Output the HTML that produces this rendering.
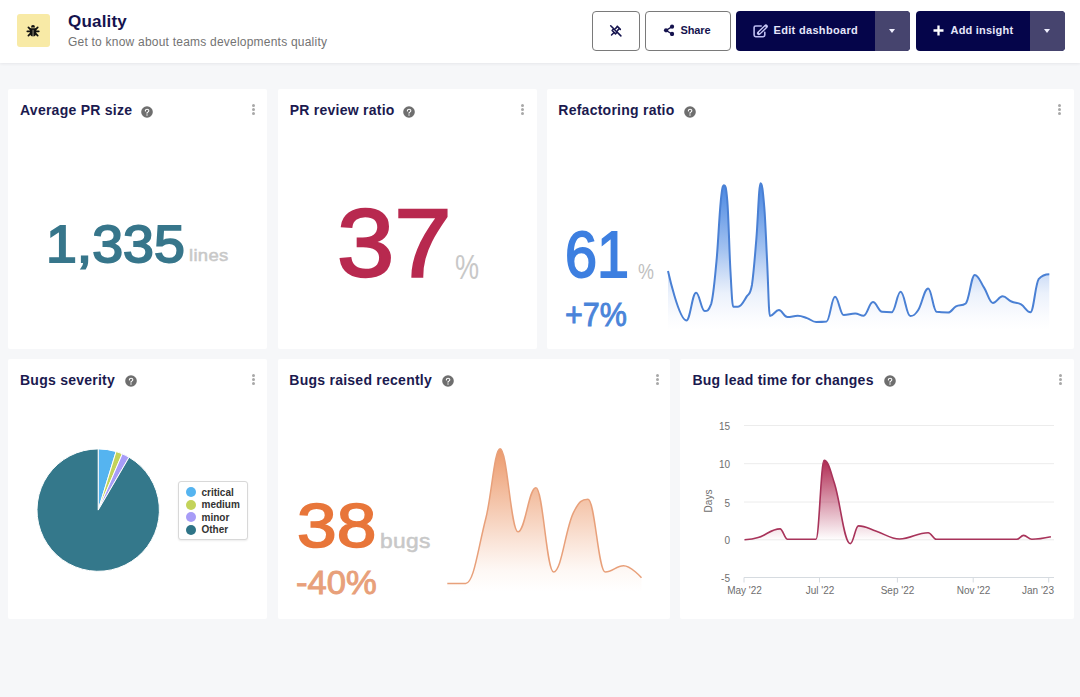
<!DOCTYPE html>
<html>
<head>
<meta charset="utf-8">
<style>
*{box-sizing:border-box;margin:0;padding:0}
html,body{width:1080px;height:697px;overflow:hidden;background:#f6f7f9;font-family:"Liberation Sans",sans-serif}
.abs{position:absolute}
.t{position:absolute;white-space:nowrap;line-height:1}
#hdr{position:absolute;left:0;top:0;width:1080px;height:63px;background:#fff;box-shadow:0 1px 3px rgba(20,20,40,0.07)}
.card{position:absolute;background:#fff;border-radius:2px}
.ttl{position:absolute;white-space:nowrap;line-height:1;font-weight:bold;font-size:14px;letter-spacing:0.25px;color:#1b1a4f}
.help{position:absolute;width:12px;height:12px;border-radius:50%;background:#6e6e6e;color:#fff;font-weight:bold;font-size:9px;line-height:12px;text-align:center}
.dots{position:absolute;width:3px;height:12px}
.dots i{position:absolute;left:0;width:3px;height:3px;border-radius:50%;background:#a8a8a8}
.btn{position:absolute;top:11px;height:40px;border-radius:4px}
.ob{border:1px solid #7a7a7a;background:#fff}
.db{background:#05054a}
.dd{position:absolute;top:0;height:40px;background:#46446e;border-radius:0 4px 4px 0}
.caret{position:absolute;width:0;height:0;border-left:3.5px solid transparent;border-right:3.5px solid transparent;border-top:4px solid #f0f0ff}
</style>
</head>
<body>
<div id="hdr">
  <div class="abs" style="left:17px;top:14px;width:33px;height:33px;background:#f8eaa6;border-radius:3px"></div>
  <svg class="abs" style="left:23px;top:21px" width="20" height="20" viewBox="0 0 20 20">
    <path d="M8,6.4 Q8,4 10,4 Q12,4 12,6.4 Z" fill="#111"/>
    <path d="M6.9,7.3 H13.2 V12.2 Q13.2,15.3 10.05,15.3 Q6.9,15.3 6.9,12.2 Z" fill="#111"/>
    <path d="M10.05,8.8 V15.2" stroke="#a8a288" stroke-width="0.9"/>
    <path d="M5.4,6.4 L7.4,8.4 M14.7,6.4 L12.7,8.4 M4.3,10.3 H7.2 M15.8,10.3 H12.9 M5.4,14.7 L7.4,12.7 M14.7,14.7 L12.7,12.7" stroke="#111" stroke-width="1.7" stroke-linecap="round"/>
  </svg>
  <div id="nqual" class="t" style="left:68px;top:12.5px;font-size:17px;font-weight:bold;color:#15134e;letter-spacing:0.2px">Quality</div>
  <div id="nsub" class="t" style="left:68px;top:36.2px;font-size:12px;color:#737373;letter-spacing:0.22px">Get to know about teams developments quality</div>

  <div class="btn ob" style="left:592px;width:48px">
    <svg class="abs" style="left:9px;top:6px" width="28" height="28" viewBox="0 0 24 24"></svg>
  </div>
  <svg class="abs" style="left:609.1px;top:23.5px" width="13.6" height="13.6" viewBox="0 0 24 24" fill="none" stroke="#15134e" stroke-width="2.7" stroke-linecap="round" stroke-linejoin="round">
    <path d="M3 3l18 18"/><path d="M15 4.5l-3.249 3.249m-2.57 1.433l-2.181 .818l-1.5 1.5l6 6l1.5 -1.5l.82 -2.186m1.43 -2.563l3.25 -3.251"/><path d="M9 15l-4.5 4.5"/><path d="M14.5 4l5.5 5.5"/>
  </svg>

  <div class="btn ob" style="left:645px;width:86px"></div>
  <svg class="abs" style="left:663px;top:24.1px" width="12" height="12" viewBox="0 0 12 12">
    <path d="M9.05,2.64 L3.03,6.37 L9.05,9.96" stroke="#15134e" stroke-width="1.3" fill="none"/>
    <circle cx="9.05" cy="2.64" r="2.1" fill="#15134e"/><circle cx="3.03" cy="6.37" r="2.1" fill="#15134e"/><circle cx="9.05" cy="9.96" r="2.1" fill="#15134e"/>
  </svg>
  <div class="t" style="left:680.5px;top:24.5px;font-size:11px;font-weight:bold;color:#15134e;letter-spacing:-0.1px">Share</div>

  <div class="btn db" style="left:736px;width:174px">
    <div class="dd" style="left:139px;width:35px"><div class="caret" style="left:14px;top:18px"></div></div>
  </div>
  <svg class="abs" style="left:750px;top:20px" width="22" height="22" viewBox="0 0 22 22" fill="none" stroke-linecap="round" stroke-linejoin="round">
    <path d="M11.2,6 H5.7 Q4.1,6 4.1,7.6 V15.1 Q4.1,16.7 5.7,16.7 H13.2 Q14.8,16.7 14.8,15.1 V12.2" stroke="#bdbdf0" stroke-width="1.6"/>
    <path d="M8.9,13.2 L15.9,6.4" stroke="#c8c8f4" stroke-width="3.9"/>
    <path d="M9.6,12.5 L15.2,7.1" stroke="#05054a" stroke-width="1.2"/>
  </svg>
  <div class="t" style="left:773.5px;top:24.5px;font-size:11px;font-weight:bold;color:#e6e6fa;letter-spacing:0.32px">Edit dashboard</div>

  <div class="btn db" style="left:916px;width:149px">
    <div class="dd" style="left:114px;width:35px"><div class="caret" style="left:14px;top:18px"></div></div>
  </div>
  <svg class="abs" style="left:933px;top:25px" width="11" height="11" viewBox="0 0 11 11">
    <path d="M5.5,0.5 V10.5 M0.5,5.5 H10.5" stroke="#fff" stroke-width="2.3"/>
  </svg>
  <div class="t" style="left:950.5px;top:24.5px;font-size:11px;font-weight:bold;color:#e6e6fa;letter-spacing:0.21px">Add insight</div>
</div>

<!-- Row 1 -->
<div class="card" style="left:8px;top:88.9px;width:259px;height:259.9px"></div>
<div class="card" style="left:278px;top:88.9px;width:259px;height:259.9px"></div>
<div class="card" style="left:547px;top:88.9px;width:527px;height:259.9px"></div>
<!-- Row 2 -->
<div class="card" style="left:8px;top:359px;width:259px;height:259.6px"></div>
<div class="card" style="left:278px;top:359px;width:392px;height:259.6px"></div>
<div class="card" style="left:680px;top:359px;width:394px;height:259.6px"></div>

<!-- titles -->
<div class="ttl" style="left:20px;top:103.2px">Average PR size</div>
<svg class="abs" style="left:141.0px;top:105.7px" width="12" height="12" viewBox="-6 -6 12 12"><circle r="5.8" fill="#6e6e6e"/><g transform="translate(0,-0.2) scale(0.82)"><path d="M-2,-1 C-2,-2.5 -1,-3.1 0.1,-3.1 C1.3,-3.1 2.2,-2.3 2.2,-1.2 C2.2,-0.1 1.3,0.2 0.7,0.6 C0.2,0.9 0,1.2 0,1.8" stroke="#fff" stroke-width="1.3" fill="none" stroke-linecap="round"/><circle cx="0" cy="3.9" r="0.85" fill="#fff"/></g></svg>
<div class="dots" style="left:252px;top:104px"><i style="top:0"></i><i style="top:4.2px"></i><i style="top:8.4px"></i></div>

<div class="ttl" style="left:289.7px;top:103.2px">PR review ratio</div>
<svg class="abs" style="left:403.0px;top:105.7px" width="12" height="12" viewBox="-6 -6 12 12"><circle r="5.8" fill="#6e6e6e"/><g transform="translate(0,-0.2) scale(0.82)"><path d="M-2,-1 C-2,-2.5 -1,-3.1 0.1,-3.1 C1.3,-3.1 2.2,-2.3 2.2,-1.2 C2.2,-0.1 1.3,0.2 0.7,0.6 C0.2,0.9 0,1.2 0,1.8" stroke="#fff" stroke-width="1.3" fill="none" stroke-linecap="round"/><circle cx="0" cy="3.9" r="0.85" fill="#fff"/></g></svg>
<div class="dots" style="left:521px;top:104px"><i style="top:0"></i><i style="top:4.2px"></i><i style="top:8.4px"></i></div>

<div class="ttl" style="left:558.3px;top:103.2px">Refactoring ratio</div>
<svg class="abs" style="left:684.0px;top:105.7px" width="12" height="12" viewBox="-6 -6 12 12"><circle r="5.8" fill="#6e6e6e"/><g transform="translate(0,-0.2) scale(0.82)"><path d="M-2,-1 C-2,-2.5 -1,-3.1 0.1,-3.1 C1.3,-3.1 2.2,-2.3 2.2,-1.2 C2.2,-0.1 1.3,0.2 0.7,0.6 C0.2,0.9 0,1.2 0,1.8" stroke="#fff" stroke-width="1.3" fill="none" stroke-linecap="round"/><circle cx="0" cy="3.9" r="0.85" fill="#fff"/></g></svg>
<div class="dots" style="left:1058px;top:104px"><i style="top:0"></i><i style="top:4.2px"></i><i style="top:8.4px"></i></div>

<div class="ttl" style="left:20px;top:372.6px">Bugs severity</div>
<svg class="abs" style="left:124.5px;top:375.1px" width="12" height="12" viewBox="-6 -6 12 12"><circle r="5.8" fill="#6e6e6e"/><g transform="translate(0,-0.2) scale(0.82)"><path d="M-2,-1 C-2,-2.5 -1,-3.1 0.1,-3.1 C1.3,-3.1 2.2,-2.3 2.2,-1.2 C2.2,-0.1 1.3,0.2 0.7,0.6 C0.2,0.9 0,1.2 0,1.8" stroke="#fff" stroke-width="1.3" fill="none" stroke-linecap="round"/><circle cx="0" cy="3.9" r="0.85" fill="#fff"/></g></svg>
<div class="dots" style="left:252px;top:373.5px"><i style="top:0"></i><i style="top:4.2px"></i><i style="top:8.4px"></i></div>

<div class="ttl" style="left:289.3px;top:372.6px">Bugs raised recently</div>
<svg class="abs" style="left:442.0px;top:375.1px" width="12" height="12" viewBox="-6 -6 12 12"><circle r="5.8" fill="#6e6e6e"/><g transform="translate(0,-0.2) scale(0.82)"><path d="M-2,-1 C-2,-2.5 -1,-3.1 0.1,-3.1 C1.3,-3.1 2.2,-2.3 2.2,-1.2 C2.2,-0.1 1.3,0.2 0.7,0.6 C0.2,0.9 0,1.2 0,1.8" stroke="#fff" stroke-width="1.3" fill="none" stroke-linecap="round"/><circle cx="0" cy="3.9" r="0.85" fill="#fff"/></g></svg>
<div class="dots" style="left:655.5px;top:373.5px"><i style="top:0"></i><i style="top:4.2px"></i><i style="top:8.4px"></i></div>

<div class="ttl" style="left:692.4px;top:372.6px">Bug lead time for changes</div>
<svg class="abs" style="left:884.0px;top:375.1px" width="12" height="12" viewBox="-6 -6 12 12"><circle r="5.8" fill="#6e6e6e"/><g transform="translate(0,-0.2) scale(0.82)"><path d="M-2,-1 C-2,-2.5 -1,-3.1 0.1,-3.1 C1.3,-3.1 2.2,-2.3 2.2,-1.2 C2.2,-0.1 1.3,0.2 0.7,0.6 C0.2,0.9 0,1.2 0,1.8" stroke="#fff" stroke-width="1.3" fill="none" stroke-linecap="round"/><circle cx="0" cy="3.9" r="0.85" fill="#fff"/></g></svg>
<div class="dots" style="left:1058.5px;top:373.5px"><i style="top:0"></i><i style="top:4.2px"></i><i style="top:8.4px"></i></div>

<!-- card 1 -->
<div id="n1335" class="t" style="left:45.75px;top:218.35px;font-size:52.67px;color:#37768b;-webkit-text-stroke:1.9px #37768b;letter-spacing:0px;transform:scaleX(1.0536);transform-origin:0 0">1,335</div>
<div id="nlines" class="t" style="left:188.50px;top:247.95px;font-size:16.59px;color:#c8c8c8;letter-spacing:0.3px;transform:scaleX(1.1140);transform-origin:0 0;-webkit-text-stroke:0.5px #c8c8c8">lines</div>

<!-- card 2 -->
<div id="n37" class="t" style="left:336.50px;top:194.50px;font-size:96.79px;color:#b8294f;-webkit-text-stroke:2.3px #b8294f;letter-spacing:0px;transform:scaleX(1.0633);transform-origin:0 0">37</div>
<div id="npct2" class="t" style="left:455.00px;top:249.65px;font-size:34.35px;color:#c8c8c8;transform:scaleX(0.7892);transform-origin:0 0">%</div>

<!-- card 3 -->
<div id="n61" class="t" style="left:565.00px;top:223.35px;font-size:64.29px;color:#3d7fe0;-webkit-text-stroke:1.9px #3d7fe0;transform:scaleX(0.8959);transform-origin:0 0">61</div>
<div id="npct3" class="t" style="left:637.75px;top:259.80px;font-size:22.89px;color:#c0c0c0;transform:scaleX(0.7845);transform-origin:0 0">%</div>
<div id="np7" class="t" style="left:565.00px;top:298.25px;font-size:33.39px;color:#4a84d9;-webkit-text-stroke:0.9px #4a84d9;transform:scaleX(0.9145);transform-origin:0 0">+7%</div>
<svg class="abs" style="left:0;top:0" width="1080" height="697">
  <defs>
    <linearGradient id="gb" x1="0" y1="183" x2="0" y2="330" gradientUnits="userSpaceOnUse">
      <stop offset="0" stop-color="#3d7fe0" stop-opacity="1"/>
      <stop offset="0.45" stop-color="#3d7fe0" stop-opacity="0.5"/>
      <stop offset="0.75" stop-color="#4d84e0" stop-opacity="0.12"/>
      <stop offset="0.92" stop-color="#6d90e0" stop-opacity="0.03"/>
      <stop offset="1" stop-color="#6d90e0" stop-opacity="0"/>
    </linearGradient>
    <linearGradient id="go" x1="0" y1="448" x2="0" y2="592" gradientUnits="userSpaceOnUse">
      <stop offset="0" stop-color="#ec9a6c" stop-opacity="1"/>
      <stop offset="0.55" stop-color="#ec9a6c" stop-opacity="0.38"/>
      <stop offset="0.85" stop-color="#f0a880" stop-opacity="0.08"/>
      <stop offset="1" stop-color="#f0a880" stop-opacity="0"/>
    </linearGradient>
    <linearGradient id="gr" x1="0" y1="460" x2="0" y2="540" gradientUnits="userSpaceOnUse">
      <stop offset="0" stop-color="#b02a52" stop-opacity="1"/>
      <stop offset="1" stop-color="#b02a52" stop-opacity="0"/>
    </linearGradient>
  </defs>
  <path d="M668.0,271.0 C668.0,271.0 679.0,320.4 686.4,320.4 C690.3,320.4 692.2,292.8 696.1,292.8 C699.5,292.8 701.3,311.0 704.7,311.0 C707.3,311.0 708.5,311.0 711.1,304.1 C713.3,297.2 714.3,284.1 716.5,261.1 C718.2,242.8 719.1,218.2 720.8,200.8 C722.1,187.9 722.7,185.3 724.0,185.3 C725.3,185.3 726.0,185.3 727.3,200.8 C728.6,216.3 729.2,249.2 730.5,271.8 C731.6,291.6 732.2,306.7 733.3,306.7 C735.2,306.7 736.1,306.7 738.0,306.7 C741.4,306.7 743.2,302.0 746.6,296.6 C748.8,293.2 749.8,296.6 752.0,284.7 C753.7,272.8 754.6,259.9 756.3,239.6 C758.0,219.3 758.9,183.2 760.6,183.2 C762.1,183.2 762.8,189.6 764.3,207.3 C765.4,220.7 766.0,239.4 767.1,261.1 C768.2,282.8 768.8,316.0 769.9,316.0 C773.5,316.0 775.3,310.1 778.9,310.1 C782.3,310.1 784.0,317.0 787.4,317.0 C791.6,317.0 793.6,315.8 797.8,315.8 C801.5,315.8 803.3,316.9 807.0,318.1 C810.6,319.3 812.5,322.0 816.1,322.0 C820.3,322.0 822.3,322.0 826.5,321.5 C829.9,321.0 831.6,296.8 835.0,296.8 C838.5,296.8 840.2,315.1 843.7,315.1 C848.3,315.1 850.6,313.5 855.2,313.5 C858.6,313.5 860.2,315.7 863.6,315.7 C867.3,315.7 869.2,302.1 872.9,302.1 C876.6,302.1 878.4,311.4 882.1,311.8 C886.0,312.2 887.9,312.2 891.8,312.2 C895.3,312.2 897.1,291.8 900.6,291.8 C904.5,291.8 906.4,316.1 910.3,316.1 C913.4,316.1 915.0,315.1 918.1,310.3 C922.1,304.1 924.2,288.5 928.2,288.5 C931.5,288.5 933.2,311.0 936.5,311.8 C941.2,312.6 943.5,312.6 948.2,312.6 C951.3,312.6 952.9,308.0 956.0,306.4 C959.9,304.4 961.8,306.4 965.7,303.5 C969.3,300.6 971.2,274.9 974.8,274.9 C978.6,274.9 980.4,282.1 984.2,287.9 C987.7,293.3 989.4,302.9 992.9,302.9 C996.8,302.9 998.7,296.3 1002.6,296.3 C1006.1,296.3 1007.9,300.0 1011.4,301.5 C1015.3,303.2 1017.2,302.2 1021.1,304.4 C1024.8,306.5 1026.7,312.2 1030.4,312.2 C1033.7,312.2 1035.3,284.1 1038.6,279.2 C1042.9,274.3 1049.3,274.3 1049.3,274.3 L1049.3,330.0 L668.0,330.0 Z" fill="url(#gb)" opacity="0.95"/>
  <path d="M668.0,271.0 C668.0,271.0 679.0,320.4 686.4,320.4 C690.3,320.4 692.2,292.8 696.1,292.8 C699.5,292.8 701.3,311.0 704.7,311.0 C707.3,311.0 708.5,311.0 711.1,304.1 C713.3,297.2 714.3,284.1 716.5,261.1 C718.2,242.8 719.1,218.2 720.8,200.8 C722.1,187.9 722.7,185.3 724.0,185.3 C725.3,185.3 726.0,185.3 727.3,200.8 C728.6,216.3 729.2,249.2 730.5,271.8 C731.6,291.6 732.2,306.7 733.3,306.7 C735.2,306.7 736.1,306.7 738.0,306.7 C741.4,306.7 743.2,302.0 746.6,296.6 C748.8,293.2 749.8,296.6 752.0,284.7 C753.7,272.8 754.6,259.9 756.3,239.6 C758.0,219.3 758.9,183.2 760.6,183.2 C762.1,183.2 762.8,189.6 764.3,207.3 C765.4,220.7 766.0,239.4 767.1,261.1 C768.2,282.8 768.8,316.0 769.9,316.0 C773.5,316.0 775.3,310.1 778.9,310.1 C782.3,310.1 784.0,317.0 787.4,317.0 C791.6,317.0 793.6,315.8 797.8,315.8 C801.5,315.8 803.3,316.9 807.0,318.1 C810.6,319.3 812.5,322.0 816.1,322.0 C820.3,322.0 822.3,322.0 826.5,321.5 C829.9,321.0 831.6,296.8 835.0,296.8 C838.5,296.8 840.2,315.1 843.7,315.1 C848.3,315.1 850.6,313.5 855.2,313.5 C858.6,313.5 860.2,315.7 863.6,315.7 C867.3,315.7 869.2,302.1 872.9,302.1 C876.6,302.1 878.4,311.4 882.1,311.8 C886.0,312.2 887.9,312.2 891.8,312.2 C895.3,312.2 897.1,291.8 900.6,291.8 C904.5,291.8 906.4,316.1 910.3,316.1 C913.4,316.1 915.0,315.1 918.1,310.3 C922.1,304.1 924.2,288.5 928.2,288.5 C931.5,288.5 933.2,311.0 936.5,311.8 C941.2,312.6 943.5,312.6 948.2,312.6 C951.3,312.6 952.9,308.0 956.0,306.4 C959.9,304.4 961.8,306.4 965.7,303.5 C969.3,300.6 971.2,274.9 974.8,274.9 C978.6,274.9 980.4,282.1 984.2,287.9 C987.7,293.3 989.4,302.9 992.9,302.9 C996.8,302.9 998.7,296.3 1002.6,296.3 C1006.1,296.3 1007.9,300.0 1011.4,301.5 C1015.3,303.2 1017.2,302.2 1021.1,304.4 C1024.8,306.5 1026.7,312.2 1030.4,312.2 C1033.7,312.2 1035.3,284.1 1038.6,279.2 C1042.9,274.3 1049.3,274.3 1049.3,274.3" fill="none" stroke="#4a80d4" stroke-width="2"/>
  <path d="M447.3,583.4 C447.3,583.4 458.3,583.4 465.7,583.4 C473.8,583.4 477.8,549.6 485.9,518.0 C491.6,495.8 494.4,448.7 500.1,448.7 C507.3,448.7 510.8,531.8 518.0,531.8 C525.2,531.8 528.7,487.7 535.9,487.7 C543.0,487.7 546.5,572.0 553.6,572.0 C561.4,572.0 565.3,529.9 573.1,513.4 C579.1,500.8 582.0,499.2 588.0,499.2 C594.9,499.2 598.3,572.0 605.2,572.0 C612.6,572.0 616.2,565.8 623.6,565.8 C630.8,565.8 641.5,577.7 641.5,577.7 L641.5,592.0 L447.3,592.0 Z" fill="url(#go)"/>
  <path d="M447.3,583.4 C447.3,583.4 458.3,583.4 465.7,583.4 C473.8,583.4 477.8,549.6 485.9,518.0 C491.6,495.8 494.4,448.7 500.1,448.7 C507.3,448.7 510.8,531.8 518.0,531.8 C525.2,531.8 528.7,487.7 535.9,487.7 C543.0,487.7 546.5,572.0 553.6,572.0 C561.4,572.0 565.3,529.9 573.1,513.4 C579.1,500.8 582.0,499.2 588.0,499.2 C594.9,499.2 598.3,572.0 605.2,572.0 C612.6,572.0 616.2,565.8 623.6,565.8 C630.8,565.8 641.5,577.7 641.5,577.7" fill="none" stroke="#e8a07a" stroke-width="1.5"/>
</svg>

<!-- card 5 -->
<div id="n38" class="t" style="left:297.25px;top:494.35px;font-size:63.15px;color:#e8763a;-webkit-text-stroke:1.7px #e8763a;transform:scaleX(1.1285);transform-origin:0 0">38</div>
<div id="nbugs" class="t" style="left:379.75px;top:532.35px;font-size:19.64px;color:#c8c8c8;letter-spacing:0.3px;transform:scaleX(1.1583);transform-origin:0 0;-webkit-text-stroke:0.5px #c8c8c8">bugs</div>
<div id="nm40" class="t" style="left:296.00px;top:567.30px;font-size:32.33px;color:#e8a07a;-webkit-text-stroke:0.9px #e8a07a;transform:scaleX(1.0696);transform-origin:0 0">-40%</div>

<!-- card 4: pie -->
<svg class="abs" style="left:0;top:0" width="1080" height="697">
  <path d="M98.20,510.10 L98.20,448.90 A61.20,61.20 0 0 1 116.09,451.57 Z" fill="#55b4f0" stroke="#fff" stroke-width="1" stroke-linejoin="round"/>
  <path d="M98.20,510.10 L116.09,451.57 A61.20,61.20 0 0 1 122.31,453.85 Z" fill="#c3d35a" stroke="#fff" stroke-width="1" stroke-linejoin="round"/>
  <path d="M98.20,510.10 L122.31,453.85 A61.20,61.20 0 0 1 129.08,457.26 Z" fill="#a79cf7" stroke="#fff" stroke-width="1" stroke-linejoin="round"/>
  <path d="M98.20,510.10 L129.08,457.26 A61.20,61.20 0 1 1 98.20,448.90 Z" fill="#34788b" stroke="#fff" stroke-width="1" stroke-linejoin="round"/>
</svg>
<div class="abs" style="left:177.5px;top:481px;width:70px;height:59px;border:1px solid #d8d8d8;border-radius:3px;box-shadow:0 1px 2px rgba(0,0,0,0.08);background:#fff"></div>
<div class="abs" style="left:185.8px;top:487px;width:10px;height:10px;border-radius:50%;background:#55b4f0"></div>
<div class="abs" style="left:185.8px;top:499.5px;width:10px;height:10px;border-radius:50%;background:#c3d35a"></div>
<div class="abs" style="left:185.8px;top:512px;width:10px;height:10px;border-radius:50%;background:#a79cf7"></div>
<div class="abs" style="left:185.8px;top:524.6px;width:10px;height:10px;border-radius:50%;background:#2e7487"></div>
<div class="t" style="left:201.5px;top:487.5px;font-size:10px;font-weight:bold;color:#333">critical</div>
<div class="t" style="left:201.5px;top:500px;font-size:10px;font-weight:bold;color:#333">medium</div>
<div class="t" style="left:201.5px;top:512.5px;font-size:10px;font-weight:bold;color:#333">minor</div>
<div class="t" style="left:201.5px;top:525px;font-size:10px;font-weight:bold;color:#333">Other</div>

<!-- card 6: lead time -->
<svg class="abs" style="left:0;top:0" width="1080" height="697">
  <g stroke="#ececec" stroke-width="1">
    <path d="M744,425.5 H1054"/><path d="M744,463.7 H1054"/><path d="M744,502 H1054"/><path d="M744,539.8 H1054"/>
  </g>
  <path d="M744,577.5 H1054" stroke="#d6dbe0" stroke-width="1"/>
  <g stroke="#d6dbe0" stroke-width="1">
    <path d="M744,577.5 v5"/><path d="M819.5,577.5 v5"/><path d="M897.4,577.5 v5"/><path d="M973.2,577.5 v5"/><path d="M1048.7,577.5 v5"/>
  </g>
  <path d="M744.5,539.8 C744.5,539.8 752.7,539.3 758.2,537.6 C766.9,534.9 771.3,528.9 780.0,528.9 C783.0,528.9 784.6,539.2 787.6,539.2 C799.0,539.2 804.6,539.2 816.0,539.2 C819.2,539.2 820.9,460.4 824.1,460.4 C828.3,460.4 830.3,470.4 834.5,483.6 C840.8,503.7 844.0,543.6 850.3,543.6 C853.6,543.6 855.2,525.9 858.5,525.9 C865.7,525.9 869.2,529.0 876.4,531.3 C885.6,534.3 890.3,539.0 899.5,539.0 C911.0,539.0 916.7,532.7 928.2,532.7 C931.5,532.7 933.1,539.3 936.4,539.3 C968.6,539.3 984.6,539.3 1016.8,539.3 C1019.5,539.3 1020.9,535.4 1023.6,535.4 C1026.9,535.4 1028.5,539.3 1031.8,539.3 C1039.4,539.3 1050.9,536.8 1050.9,536.8 L1050.9,539.8 L744.5,539.8 Z" fill="url(#gr)"/>
  <path d="M744.5,539.8 C744.5,539.8 752.7,539.3 758.2,537.6 C766.9,534.9 771.3,528.9 780.0,528.9 C783.0,528.9 784.6,539.2 787.6,539.2 C799.0,539.2 804.6,539.2 816.0,539.2 C819.2,539.2 820.9,460.4 824.1,460.4 C828.3,460.4 830.3,470.4 834.5,483.6 C840.8,503.7 844.0,543.6 850.3,543.6 C853.6,543.6 855.2,525.9 858.5,525.9 C865.7,525.9 869.2,529.0 876.4,531.3 C885.6,534.3 890.3,539.0 899.5,539.0 C911.0,539.0 916.7,532.7 928.2,532.7 C931.5,532.7 933.1,539.3 936.4,539.3 C968.6,539.3 984.6,539.3 1016.8,539.3 C1019.5,539.3 1020.9,535.4 1023.6,535.4 C1026.9,535.4 1028.5,539.3 1031.8,539.3 C1039.4,539.3 1050.9,536.8 1050.9,536.8" fill="none" stroke="#a8335a" stroke-width="1.6"/>
  <g font-family="Liberation Sans" font-size="10" fill="#6e6e6e" text-anchor="end">
    <text x="730" y="430">15</text><text x="730" y="468.2">10</text><text x="730" y="506.5">5</text><text x="730" y="544.3">0</text><text x="730" y="582">-5</text>
  </g>
  <g font-family="Liberation Sans" font-size="10" fill="#6e6e6e" text-anchor="middle">
    <text x="744.5" y="593.8">May '22</text><text x="820" y="593.8">Jul '22</text><text x="897.5" y="593.8">Sep '22</text><text x="973.5" y="593.8">Nov '22</text><text x="1038" y="593.8">Jan '23</text>
  </g>
  <text x="0" y="0" font-family="Liberation Sans" font-size="10" fill="#6e6e6e" text-anchor="middle" transform="translate(712.4,501) rotate(-90)">Days</text>
</svg>
</body>
</html>
